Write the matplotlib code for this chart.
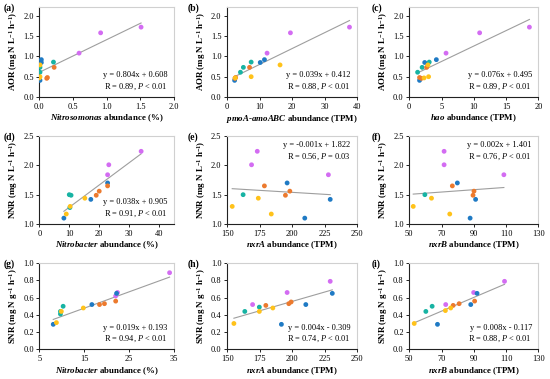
import numpy as np
import matplotlib
matplotlib.use("Agg")
import matplotlib.pyplot as plt

plt.rcParams['font.family'] = ['Liberation Serif', 'DejaVu Serif']
plt.rcParams['mathtext.fontset'] = 'custom'
plt.rcParams['mathtext.rm'] = 'Liberation Serif'
plt.rcParams['mathtext.it'] = 'Liberation Serif:italic'
plt.rcParams['mathtext.bf'] = 'Liberation Serif:bold'
plt.rcParams['mathtext.bfit'] = 'Liberation Serif:italic:bold'

nan = np.nan
# sample groups (3 samples each)
groups = ['P'] * 3 + ['B'] * 3 + ['T'] * 3 + ['O'] * 3 + ['Y'] * 3
group_colors = {'P': '#D36CF2', 'B': '#1F7AC4', 'T': '#17B3A3', 'O': '#EC7A2E', 'Y': '#FFC21A'}

# row 1: AOR
aor = [1.72, 1.58, 1.08, 0.92, 0.85, 0.41, 0.86, 0.73, 0.61, 0.73, 0.48, 0.46, 0.79, 0.50, 0.47]
nitrosomonas = [1.51, 0.91, 0.59, 0.03, 0.03, 0.01, 0.21, 0.01, 0.01, 0.22, 0.12, 0.11, 0.01, 0.01, 0.0]
pmoa = [37.7, 19.5, 12.3, 11.5, 10.2, 2.3, 7.4, 5.0, 4.1, 6.9, 2.6, 2.4, 16.3, 7.4, 2.5]
hao = [18.6, 10.9, 5.7, 4.2, 2.4, 1.6, 3.1, 2.0, 1.3, 2.7, 1.6, 1.9, 2.9, 3.0, 2.3]

# row 2: NNR
nnr = [2.24, 2.01, 1.84, 1.70, 1.42, 1.10, 1.50, 1.49, 1.28, 1.65, 1.49, 1.56, 1.30, 1.44, 1.17]
nitrobacter_d = [34.0, 23.2, 22.8, 22.8, 17.2, 8.2, 10.0, 10.6, 10.2, 22.8, 19.0, 20.0, 10.3, 15.2, 9.0]
nxra_e = [173.2, 168.8, 228.0, 196.2, 229.4, 209.8, 162.3, nan, nan, 178.7, 194.9, 198.3, 153.9, 174.0, 184.0]
nxrb_f = [71.6, 71.6, 108.6, 79.8, 91.1, 87.7, 59.7, nan, nan, 76.7, 89.5, 90.1, 52.5, 63.8, 75.1]

# row 3: SNR (read separately per panel)
snr_g = [0.89, 0.66, 0.62, 0.65, 0.52, 0.29, 0.50, 0.44, 0.41, 0.56, 0.53, 0.52, 0.48, 0.31, 0.44]
nitrobacter_g = [34.0, 22.4, 22.0, 22.2, 16.7, 8.1, 10.3, 9.7, 9.7, 22.0, 19.5, 18.4, 14.8, 8.8, 9.9]
snr_h = [0.79, 0.66, 0.52, 0.65, 0.52, 0.29, 0.44, 0.49, nan, 0.51, 0.53, 0.55, 0.30, 0.44, 0.48]
nxra_h = [229.4, 196.2, 169.6, 231.0, 210.6, 191.8, 163.6, 174.8, nan, 179.8, 197.5, 199.3, 155.2, 174.8, 185.2]
snr_i = [0.79, 0.66, 0.52, 0.65, 0.52, 0.29, 0.44, 0.50, nan, 0.51, 0.53, 0.56, 0.30, 0.45, 0.48]
nxrb_i = [109.0, 89.9, 72.6, 92.0, 88.1, 67.5, 60.3, 64.2, nan, 77.2, 80.9, 90.5, 53.1, 72.4, 75.7]

# fitted lines as drawn (slope, intercept) and annotation text
fits = [(0.804, 0.608), (0.039, 0.412), (0.076, 0.495),
        (0.038, 0.905), (-0.00135, 1.81), (0.002, 1.405),
        (0.019, 0.193), (0.00435, -0.314), (0.008, -0.117)]
eq_text = ['y = 0.804x + 0.608\nR = 0.89, $\\mathit{P}$ < 0.01',
           'y = 0.039x + 0.412\nR = 0.88, $\\mathit{P}$ < 0.01',
           'y = 0.076x + 0.495\nR = 0.89, $\\mathit{P}$ < 0.01',
           'y = 0.038x + 0.905\nR = 0.91, $\\mathit{P}$ < 0.01',
           'y = -0.001x + 1.822\nR = 0.56, $\\mathit{P}$ = 0.03',
           'y = 0.002x + 1.401\nR = 0.76, $\\mathit{P}$ < 0.01',
           'y = 0.019x + 0.193\nR = 0.94, $\\mathit{P}$ < 0.01',
           'y = 0.004x - 0.309\nR = 0.74, $\\mathit{P}$ < 0.01',
           'y = 0.008x - 0.117\nR = 0.88, $\\mathit{P}$ < 0.01']

xdata = [nitrosomonas, pmoa, hao, nitrobacter_d, nxra_e, nxrb_f, nitrobacter_g, nxra_h, nxrb_i]
ydata = [aor, aor, aor, nnr, nnr, nnr, snr_g, snr_h, snr_i]

xlabels = [r'$\mathbfit{Nitrosomonas}$ abundance (%)',
           r'$\mathbfit{pmoA}$-$\mathbfit{amoABC}$ abundance (TPM)',
           r'$\mathbfit{hao}$ abundance (TPM)',
           r'$\mathbfit{Nitrobacter}$ abundance (%)',
           r'$\mathbfit{nxrA}$ abundance (TPM)',
           r'$\mathbfit{nxrB}$ abundance (TPM)',
           r'$\mathbfit{Nitrobacter}$ abundance (%)',
           r'$\mathbfit{nxrA}$ abundance (TPM)',
           r'$\mathbfit{nxrB}$ abundance (TPM)']
ylabels = [r'AOR (mg N L$^{\mathbf{-1}}$ h$^{\mathbf{-1}}$)',
           r'NNR (mg N L$^{\mathbf{-1}}$ h$^{\mathbf{-1}}$)',
           r'SNR (mg N g$^{\mathbf{-1}}$ h$^{\mathbf{-1}}$)']
xticks = [np.arange(0, 2.01, 0.5), np.arange(0, 41, 10), np.arange(0, 21, 5),
          np.arange(0, 41, 10), np.arange(150, 251, 25), np.arange(50, 131, 20),
          np.arange(5, 36, 10), np.arange(150, 251, 25), np.arange(50, 131, 20)]
xlims = [(0, 2), (0, 40), (0, 20), (0, 45), (150, 250), (50, 130), (5, 35), (150, 250), (50, 130)]
ylims = [(0, 2.22), (1.0, 2.5), (0, 1.0)]
yticks = [np.arange(0, 2.01, 0.5), np.arange(1.0, 2.51, 0.5), np.arange(0, 1.01, 0.2)]
xfmt = ['%.1f', '%d', '%d', '%d', '%d', '%d', '%d', '%d', '%d']
letters = 'abcdefghi'

fig = plt.figure(figsize=(5.5, 3.79), dpi=100)
lefts = [0.0715, 0.413, 0.744]
widths = [0.245, 0.236, 0.235]
bottoms = [0.744, 0.409, 0.0784]
heights = [0.238, 0.232, 0.227]
label_x = [4, 188, 372]

for k in range(9):
    r, c = divmod(k, 3)
    ax = fig.add_axes([lefts[c], bottoms[r], widths[c], heights[r]])
    xs = np.array(xdata[k], dtype=float)
    ys = np.array(ydata[k], dtype=float)
    cols = [group_colors[g] for g in groups]
    ax.scatter(xs, ys, s=12, c=cols, linewidths=0, zorder=3)
    m, b = fits[k]
    xl = np.array([np.nanmin(xs), np.nanmax(xs)])
    ax.plot(xl, m * xl + b, color='#9E9E9E', lw=0.8, zorder=2)
    ax.set_xlim(*xlims[k])
    ax.set_ylim(*ylims[r])
    ax.set_xticks(xticks[k])
    ax.set_yticks(yticks[r])
    ax.set_xticklabels([xfmt[k] % v for v in xticks[k]])
    ax.set_yticklabels(['%.1f' % v for v in yticks[r]])
    ax.tick_params(labelsize=6, length=2.5, width=0.6, pad=1.5, direction='out')
    for s in ['top', 'right']:
        ax.spines[s].set_color('#D0D0D0')
        ax.spines[s].set_linewidth(0.8)
    for s in ['left', 'bottom']:
        ax.spines[s].set_color('#222222')
        ax.spines[s].set_linewidth(0.8)
    ax.set_xlabel(xlabels[k], fontsize=6.4, fontweight='bold', labelpad=1.5)
    ax.set_ylabel(ylabels[r], fontsize=6.4, fontweight='bold', labelpad=2)
    if k in (4, 5):
        ax.text(0.95, 0.94, eq_text[k], transform=ax.transAxes, ha='right', va='top',
                fontsize=6, linespacing=1.3)
    else:
        ax.text(0.95, 0.06, eq_text[k], transform=ax.transAxes, ha='right', va='bottom',
                fontsize=6, linespacing=1.3)
    top_px = (1 - bottoms[r] - heights[r]) * 379
    fig.text(label_x[c] / 550, 1 - (top_px + 1) / 379, '(%s)' % letters[k],
             fontsize=7, fontweight='bold', ha='left', va='center')

fig.savefig('out.png', dpi=100)
